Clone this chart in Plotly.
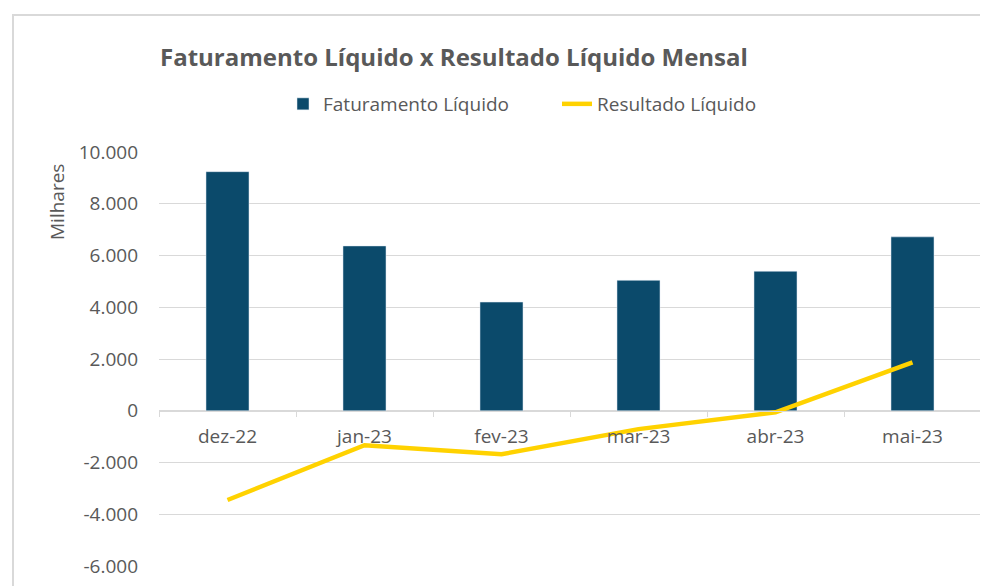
import plotly.graph_objects as go

# monthly data (thousands)
MONTHS = ["dez-22", "jan-23", "fev-23", "mar-23", "abr-23", "mai-23"]
FATURAMENTO = [9240, 6370, 4200, 5040, 5390, 6720]
RESULTADO = [-3450, -1330, -1680, -710, -60, 1870]

Y_TICKS = [-6000, -4000, -2000, 0, 2000, 4000, 6000, 8000, 10000]
Y_TICK_LABELS = ["-6.000", "-4.000", "-2.000", "0", "2.000", "4.000", "6.000", "8.000", "10.000"]

BAR_COLOR = "#0B4A6B"
LINE_COLOR = "#FFD200"
TEXT_COLOR = "#595959"
GRID_COLOR = "#D9D9D9"
FONT = "Open Sans"

# page body has an 8px margin, so figure coords = page coords - 8
OFF = 8
W, H = 988 - OFF, 586 - OFF
PL, PR, PT, PB = 159 - OFF, 981 - OFF, 152 - OFF, 566 - OFF
PW, PH = PR - PL, PB - PT


def px_x(x):
    return (x - OFF - PL) / PW


def px_y(y):
    return (PB - (y - OFF)) / PH


fig = go.Figure()

fig.add_trace(
    go.Bar(
        x=MONTHS,
        y=FATURAMENTO,
        name="Faturamento Líquido",
        marker=dict(color=BAR_COLOR),
    )
)
fig.add_trace(
    go.Scatter(
        x=MONTHS,
        y=RESULTADO,
        mode="lines",
        name="Resultado Líquido",
        line=dict(color=LINE_COLOR, width=4.5),
    )
)

fig.update_layout(
    width=W,
    height=H,
    margin=dict(l=PL, r=W - PR, t=PT, b=H - PB),
    paper_bgcolor="white",
    plot_bgcolor="white",
    font=dict(family=FONT, size=19, color=TEXT_COLOR),
    bargap=0.686,
    title=dict(
        text="<b>Faturamento Líquido x Resultado Líquido Mensal</b>",
        x=(160 - OFF) / W,
        xanchor="left",
        y=1 - (58 - OFF) / H,
        yanchor="middle",
        font=dict(family=FONT, size=24, color=TEXT_COLOR),
    ),
    legend=dict(
        orientation="h",
        x=px_x(283),
        xanchor="left",
        y=px_y(104),
        yanchor="middle",
        entrywidth=229,
        font=dict(family=FONT, size=19, color=TEXT_COLOR),
        bgcolor="rgba(0,0,0,0)",
    ),
    xaxis=dict(
        type="category",
        anchor="free",
        position=0.375,
        showgrid=False,
        showline=True,
        linecolor=GRID_COLOR,
        linewidth=1,
        ticks="outside",
        tickson="boundaries",
        ticklen=5,
        tickcolor=GRID_COLOR,
        ticklabelstandoff=8,
        tickfont=dict(family=FONT, size=19, color=TEXT_COLOR),
    ),
    yaxis=dict(
        range=[-6000, 10000],
        tickvals=Y_TICKS,
        ticktext=Y_TICK_LABELS,
        showgrid=True,
        gridcolor=GRID_COLOR,
        gridwidth=1,
        zeroline=False,
        showline=False,
        ticks="",
        ticklabelstandoff=20,
        tickfont=dict(family=FONT, size=19, color=TEXT_COLOR),
    ),
    annotations=[
        dict(
            text="Milhares",
            xref="paper",
            yref="paper",
            x=px_x(57),
            y=px_y(202),
            xanchor="center",
            yanchor="middle",
            textangle=-90,
            showarrow=False,
            font=dict(family=FONT, size=19, color=TEXT_COLOR),
        )
    ],
    shapes=[
        # chart area border (top and left edges visible)
        dict(
            type="rect",
            xref="paper",
            yref="paper",
            x0=px_x(13),
            x1=1.2,
            y0=-0.2,
            y1=px_y(15),
            line=dict(color=GRID_COLOR, width=2),
            layer="below",
        )
    ],
)

fig.write_html("out.html")
